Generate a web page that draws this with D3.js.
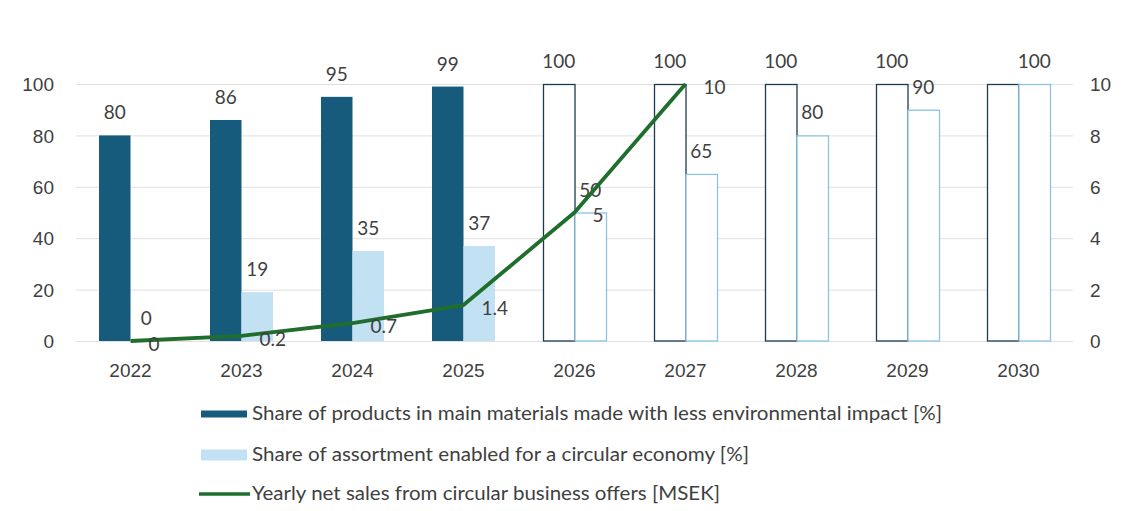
<!DOCTYPE html>
<html>
<head>
<meta charset="utf-8">
<script src="https://cdn.jsdelivr.net/npm/d3@7"></script>
<style>
  html, body { margin: 0; padding: 0; background: #fff; }
  svg { display: block; font-family: Lato, "Noto Sans", sans-serif; }
</style>
</head>
<body>
<svg id="chart" width="1126" height="511"></svg>
<script>
// Years on the x axis; from 2026 on the values are targets (drawn hollow)
const years = ["2022", "2023", "2024", "2025", "2026", "2027", "2028", "2029", "2030"];
const firstTargetYear = "2026";

// Share of products in main materials made with less environmental impact [%]
const materialsShare = [80, 86, 95, 99, 100, 100, 100, 100, 100];
// Share of assortment enabled for a circular economy [%]
const circularShare = [0, 19, 35, 37, 50, 65, 80, 90, 100];
// Yearly net sales from circular business offers [MSEK] (no value after 2027)
const salesYears = ["2022", "2023", "2024", "2025", "2026", "2027"];
const salesValues = [0, 0.2, 0.7, 1.4, 5, 10];

const leftTicks = [0, 20, 40, 60, 80, 100];
const rightTicks = [0, 2, 4, 6, 8, 10];

const legendLabels = [
  "Share of products in main materials made with less environmental impact [%]",
  "Share of assortment enabled for a circular economy [%]",
  "Yearly net sales from circular business offers [MSEK]"
];

const colors = {
  dark: "#175b7c",
  darkOutline: "#1d3b50",
  light: "#c2e1f2",
  lightOutline: "#8cc3e2",
  line: "#1f6e2d",
  grid: "#e0e0e0",
  text: "#3f3f3f"
};

const labelSize = "19px";

const svg = d3.select("#chart");
const plot = { left: 75, right: 1074, top: 84, bottom: 341 };

const x = d3.scaleBand().domain(years).range([plot.left, plot.right]).paddingInner(0).paddingOuter(0);
const groupWidth = 63;
const xSub = d3.scaleBand().domain(["materials", "circular"]).range([0, groupWidth]);
const yLeft = d3.scaleLinear().domain([0, 100]).range([plot.bottom, plot.top]);
const yRight = d3.scaleLinear().domain([0, 10]).range([plot.bottom, plot.top]);

const groupX = yr => x(yr) + (x.bandwidth() - groupWidth) / 2;
const isTarget = yr => +yr >= +firstTargetYear;

// Horizontal gridlines
svg.append("g")
  .selectAll("line")
  .data(leftTicks)
  .join("line")
  .attr("x1", 76).attr("x2", 1073)
  .attr("y1", d => yLeft(d) + 0.5).attr("y2", d => yLeft(d) + 0.5)
  .attr("stroke", colors.grid).attr("stroke-width", 1);

// Left axis
const leftAxis = svg.append("g")
  .attr("transform", `translate(${plot.left - 21},0)`)
  .call(d3.axisLeft(yLeft).tickValues(leftTicks).tickSize(0).tickPadding(0));
leftAxis.select(".domain").remove();
leftAxis.selectAll("text")
  .attr("fill", colors.text).style("font-size", labelSize).attr("dy", "0.35em");

// Right axis
const rightAxis = svg.append("g")
  .attr("transform", `translate(${plot.right + 16},0)`)
  .call(d3.axisRight(yRight).tickValues(rightTicks).tickSize(0).tickPadding(0));
rightAxis.select(".domain").remove();
rightAxis.selectAll("text")
  .attr("fill", colors.text).style("font-size", labelSize).attr("dy", "0.35em");

// Bottom axis with year labels
const bottomAxis = svg.append("g")
  .attr("transform", `translate(0,${plot.bottom})`)
  .call(d3.axisBottom(x).tickSize(0).tickPadding(29));
bottomAxis.select(".domain").remove();
bottomAxis.selectAll("text")
  .attr("fill", colors.text).style("font-size", labelSize).attr("dy", "0.35em");

// Bars: actuals are filled, targets are white with a coloured outline
const barData = years.flatMap((yr, i) => [
  { year: yr, key: "materials", value: materialsShare[i] },
  { year: yr, key: "circular", value: circularShare[i] }
]);

const bars = svg.append("g");
bars.selectAll("rect")
  .data(barData)
  .join("rect")
  .attr("x", d => groupX(d.year) + xSub(d.key) + (isTarget(d.year) ? 0.5 : 0))
  .attr("y", d => yLeft(d.value) + (isTarget(d.year) ? 0.5 : 0))
  .attr("width", d => xSub.bandwidth() - (isTarget(d.year) ? 0 : 0))
  .attr("height", d => Math.max(0, plot.bottom - yLeft(d.value)) - (isTarget(d.year) ? 0.5 : 0))
  .attr("fill", d => isTarget(d.year) ? "#ffffff" : (d.key === "materials" ? colors.dark : colors.light))
  .attr("stroke", d => isTarget(d.year) ? (d.key === "materials" ? colors.darkOutline : colors.lightOutline) : "none")
  .attr("stroke-width", 1.3);

// Bar value labels (the 2030 pair shares a single "100" label)
svg.append("g")
  .selectAll("text")
  .data(barData.filter(d => !(d.year === "2030" && d.key === "materials")))
  .join("text")
  .attr("x", d => groupX(d.year) + xSub(d.key) + xSub.bandwidth() / 2)
  .attr("y", d => yLeft(d.value) - 16)
  .attr("text-anchor", "middle")
  .attr("fill", colors.text)
  .style("font-size", labelSize)
  .text(d => d.value);

// Net sales line on the right axis
const salesData = salesYears.map((yr, i) => ({ year: yr, value: salesValues[i] }));
const line = d3.line()
  .x(d => x(d.year) + x.bandwidth() / 2)
  .y(d => yRight(d.value));

svg.append("path")
  .datum(salesData)
  .attr("d", line)
  .attr("fill", "none")
  .attr("stroke", colors.line)
  .attr("stroke-width", 3.8)
  .attr("stroke-linejoin", "round");

// Net sales value labels, placed to the right of each point
svg.append("g")
  .selectAll("text")
  .data(salesData)
  .join("text")
  .attr("x", d => x(d.year) + x.bandwidth() / 2 + 18)
  .attr("y", d => yRight(d.value) + 3)
  .attr("dy", "0.35em")
  .attr("fill", colors.text)
  .style("font-size", labelSize)
  .text(d => d.value);

// Legend
const legend = svg.append("g");
const legendRows = [
  { label: legendLabels[0], y: 414, type: "rect", color: colors.dark, h: 7, textWidth: 690 },
  { label: legendLabels[1], y: 455, type: "rect", color: colors.light, h: 11, textWidth: 497 },
  { label: legendLabels[2], y: 494, type: "line", color: colors.line, h: 3.5, textWidth: 468 }
];
legendRows.forEach(r => {
  if (r.type === "rect") {
    legend.append("rect")
      .attr("x", 201).attr("y", r.y - r.h / 2)
      .attr("width", 46).attr("height", r.h)
      .attr("fill", r.color);
  } else {
    legend.append("line")
      .attr("x1", 199).attr("x2", 250)
      .attr("y1", r.y).attr("y2", r.y)
      .attr("stroke", r.color).attr("stroke-width", r.h);
  }
  legend.append("text")
    .attr("x", 252).attr("y", r.y)
    .attr("dy", "0.35em")
    .attr("fill", colors.text)
    .style("font-size", "18.5px")
    .attr("textLength", r.textWidth)
    .attr("lengthAdjust", "spacingAndGlyphs")
    .text(r.label);
});
</script>
</body>
</html>
